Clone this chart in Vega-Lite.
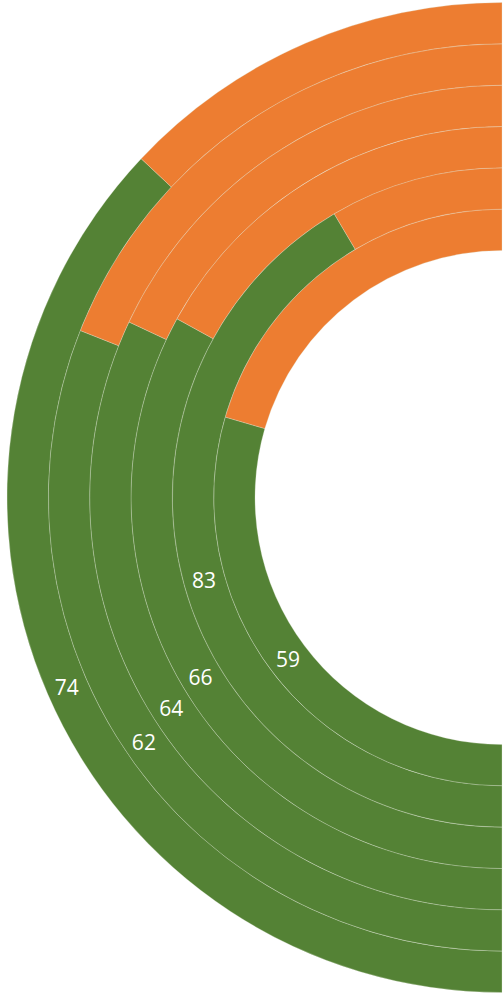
{
  "$schema": "https://vega.github.io/schema/vega-lite/v6.json",
  "width": 503,
  "height": 993,
  "padding": 0,
  "autosize": {"type": "fit", "contains": "padding"},
  "background": "white",
  "config": {"view": {"stroke": null}},
  "data": {
    "values": [
      {"ring": 1, "part": "Agree", "value": 59},
      {"ring": 1, "part": "Disagree", "value": 41},
      {"ring": 2, "part": "Agree", "value": 83},
      {"ring": 2, "part": "Disagree", "value": 17},
      {"ring": 3, "part": "Agree", "value": 66},
      {"ring": 3, "part": "Disagree", "value": 34},
      {"ring": 4, "part": "Agree", "value": 64},
      {"ring": 4, "part": "Disagree", "value": 36},
      {"ring": 5, "part": "Agree", "value": 62},
      {"ring": 5, "part": "Disagree", "value": 38},
      {"ring": 6, "part": "Agree", "value": 74},
      {"ring": 6, "part": "Disagree", "value": 26}
    ]
  },
  "encoding": {
    "theta": {"field": "value", "type": "quantitative", "stack": true, "scale": {"domain": [0, 100], "range": [3.14159265, 6.28318531]}},
    "radius": {"field": "ring", "type": "ordinal", "scale": {"type": "band", "range": [247, 495], "paddingInner": 0, "paddingOuter": 0}}
  },
  "layer": [
    {
      "mark": {"type": "arc", "x": {"expr": "width"}, "y": {"expr": "height/2+2"}, "stroke": "#dfe6d6", "strokeWidth": 0.3},
      "encoding": {
        "color": {"field": "part", "type": "nominal", "legend": null, "scale": {"domain": ["Agree", "Disagree"], "range": ["#548235", "#ED7D31"]}}
      }
    },
    {
      "transform": [{"filter": "datum.part === 'Agree'"}],
      "mark": {"type": "text", "x": {"expr": "width"}, "y": {"expr": "height/2+2"}, "dy": 3, "font": "Open Sans", "fontSize": 21, "color": "white"},
      "encoding": {
        "text": {"field": "value", "type": "quantitative"}
      }
    }
  ]
}
